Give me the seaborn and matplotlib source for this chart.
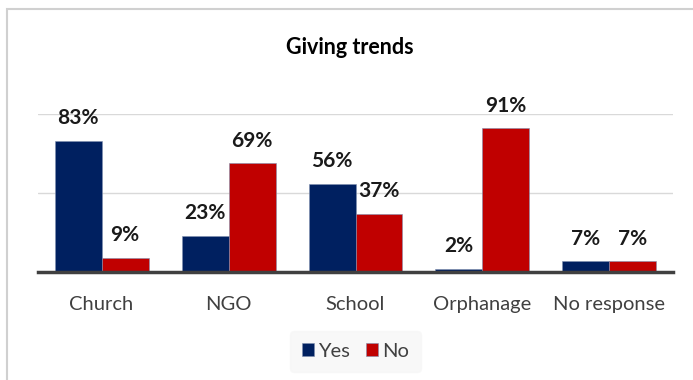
import pandas as pd
import matplotlib.pyplot as plt
import seaborn as sns
from matplotlib.patches import Rectangle

# Дані з діаграми
categories = ["Church", "NGO", "School", "Orphanage", "No response"]
yes_values = [83, 23, 56, 2, 7]
no_values = [9, 69, 37, 91, 7]
series_names = ["Yes", "No"]
colors = ["#002060", "#C00000"]

df = pd.DataFrame({
    "category": categories * 2,
    "answer": [series_names[0]] * len(categories) + [series_names[1]] * len(categories),
    "value": yes_values + no_values,
})

sns.set_style("white")
plt.rcParams["font.family"] = ["Lato", "DejaVu Sans"]

fig = plt.figure(figsize=(6.93, 3.80), dpi=100)
ax = fig.add_axes([0.055, 0.284, 0.916, 0.416])

sns.barplot(data=df, x="category", y="value", hue="answer", palette=colors,
            saturation=1, width=0.74, ax=ax, edgecolor="#8090b0", linewidth=0.4)

ax.set_ylim(0, 100)
ax.set_xlim(-0.5, 4.5)
ax.set_yticks([])
ax.set_xlabel("")
ax.set_ylabel("")
for s in ["top", "right", "left"]:
    ax.spines[s].set_visible(False)
ax.spines["bottom"].set_color("#404040")
ax.spines["bottom"].set_linewidth(2.5)
for yv in [50, 100]:
    ax.axhline(yv, color="#d9d9d9", lw=1, zorder=0)

ax.tick_params(axis="x", length=0, pad=17, labelsize=14.5, labelcolor="#404040")

for cont in ax.containers:
    ax.bar_label(cont, labels=[f"{int(v)}%" for v in cont.datavalues],
                 padding=9, fontsize=15, fontweight="bold", color="#1a1a1a")

fig.text(0.505, 0.876, "Giving trends", ha="center", va="center",
         fontsize=15.5, fontweight="bold", color="#000000")

leg = ax.legend(loc="center", bbox_to_anchor=(0.5, -0.5), ncol=2, frameon=True,
                fontsize=14.5, handlelength=0.6, handleheight=0.6, handletextpad=0.2,
                columnspacing=0.8, borderpad=0.6)
leg.get_frame().set_facecolor("#f7f7f7")
leg.get_frame().set_edgecolor("#f7f7f7")
for t in leg.get_texts():
    t.set_color("#404040")

# Рамка діаграми
fig.patches.append(Rectangle((0.01, -0.05), 1.2, 1.026, transform=fig.transFigure,
                             fill=False, edgecolor="#d0d0d0", lw=1.5))

fig.savefig("out.png", dpi=100)
